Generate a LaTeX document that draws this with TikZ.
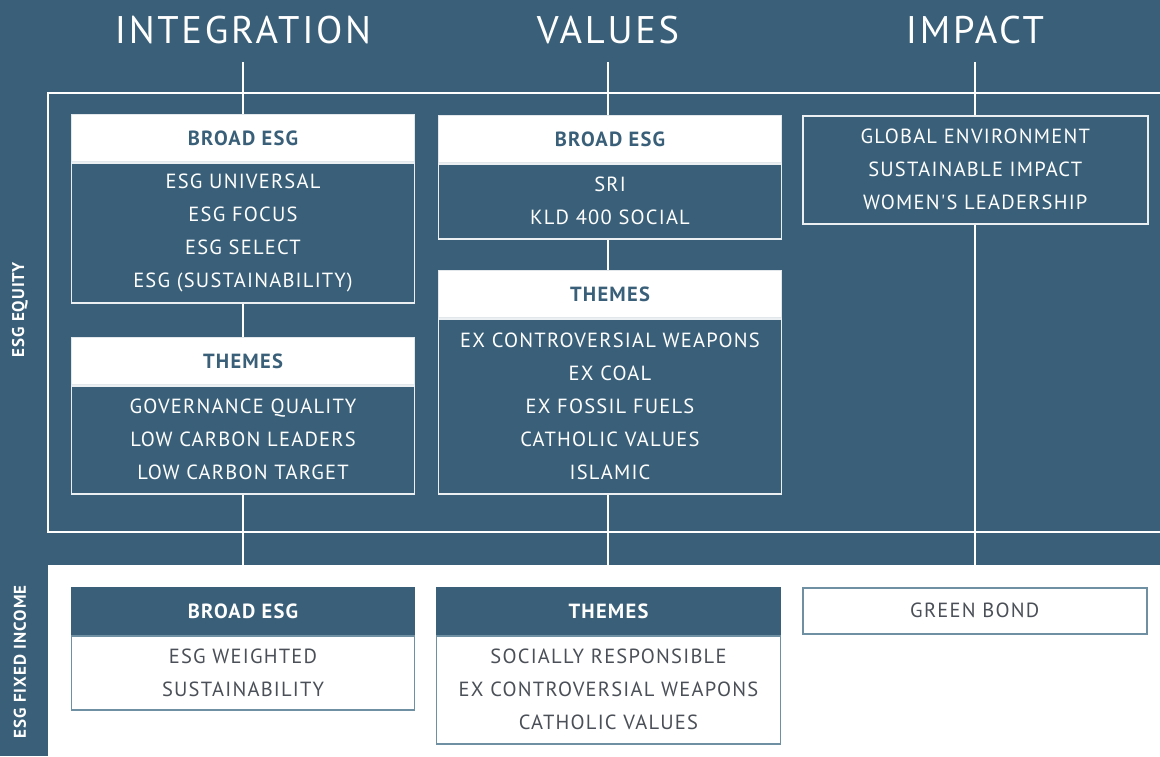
\documentclass[tikz,border=0pt]{standalone}
\usepackage{fontspec}
\setmainfont{PT Sans}
\newfontfamily\dinfont[LetterSpace=6]{PT Sans}
\newfontfamily\headfont[LetterSpace=7]{PT Sans}
\usetikzlibrary{positioning}
\definecolor{esgblue}{HTML}{3A6079}
\definecolor{esggrey}{HTML}{4B5058}
\definecolor{esgedge}{HTML}{6F8FA3}
\tikzset{
  link/.style={draw=white, line width=2pt},
  title/.style={text=white, inner sep=0pt, font=\headfont\fontsize{38.5}{38}\selectfont},
  hdr/.style={rectangle, fill=white, draw=white!85!esgblue, line width=1pt,
    minimum width=343pt, minimum height=47pt, inner sep=0pt, text=esgblue,
    font=\dinfont\fontsize{20.5}{20}\selectfont\bfseries},
  body/.style={rectangle, fill=esgblue, draw=white!90!esgblue, line width=1.5pt,
    minimum width=343pt, inner sep=0pt, align=center, text=white,
    font=\dinfont\fontsize{20.5}{33}\selectfont},
  fihdr/.style={hdr, fill=esgblue, draw=esgblue, text=white},
  fibody/.style={body, fill=white, draw=esgedge, text=esggrey},
  side/.style={text=white, rotate=90, inner sep=0pt, font=\dinfont\fontsize{17}{17}\selectfont\bfseries},
}
\begin{document}
\begin{tikzpicture}[x=1pt,y=-1pt]
\useasboundingbox (0,0) rectangle (1160,756);
\fill[esgblue] (0,0) rectangle (1160,756);
\fill[white] (48,565) rectangle (1160,756);
% equity frame
\draw[link] (1160,93) -| (48,532) -- (1160,532);
% titles
\node[title] (integ) at (243,30) {INTEGRATION};
\node[title] (vals) at (608,30) {VALUES};
\node[title] (impact) at (975,30) {IMPACT};
\coordinate (integtop) at (243,62); \coordinate (integend) at (243,565);
\coordinate (valstop) at (608,62); \coordinate (valsend) at (608,565);
\coordinate (imptop) at (975,62); \coordinate (impend) at (975,565);
% side labels
\node[side] (eqlab) at (20,310) {ESG EQUITY};
\node[side] (filab) at (20,662) {ESG FIXED INCOME};
% equity boxes
\node[hdr, anchor=north west] (ibroadh) at (71,114) {BROAD ESG};
\node[body, minimum height=140pt, below=0pt of ibroadh] (ibroadb)
  {ESG UNIVERSAL\\ESG FOCUS\\ESG SELECT\\ESG (SUSTAINABILITY)};
\node[hdr, anchor=north west] (ithemeh) at (71,337) {THEMES};
\node[body, minimum height=108pt, below=0pt of ithemeh] (ithemeb)
  {GOVERNANCE QUALITY\\LOW CARBON LEADERS\\LOW CARBON TARGET};
\node[hdr, anchor=north west] (vbroadh) at (438,115) {BROAD ESG};
\node[body, minimum height=75pt, below=0pt of vbroadh] (vbroadb)
  {SRI\\KLD 400 SOCIAL};
\node[hdr, anchor=north west] (vthemeh) at (438,270) {THEMES};
\node[body, minimum height=175pt, below=0pt of vthemeh] (vthemeb)
  {EX CONTROVERSIAL WEAPONS\\EX COAL\\EX FOSSIL FUELS\\CATHOLIC VALUES\\ISLAMIC};
\node[body, minimum width=345pt, minimum height=108pt, anchor=north west] (impb) at (802,115)
  {GLOBAL ENVIRONMENT\\SUSTAINABLE IMPACT\\WOMEN'S LEADERSHIP};
% fixed income boxes
\node[fihdr, anchor=north west] (fbroadh) at (71,587) {BROAD ESG};
\node[fibody, minimum height=74pt, below=0pt of fbroadh] (fbroadb)
  {ESG WEIGHTED\\SUSTAINABILITY};
\node[fihdr, minimum width=344pt, anchor=north west] (fthemeh) at (436,587) {THEMES};
\node[fibody, minimum width=344pt, minimum height=108pt, below=0pt of fthemeh] (fthemeb)
  {SOCIALLY RESPONSIBLE\\EX CONTROVERSIAL WEAPONS\\CATHOLIC VALUES};
\node[fibody, minimum width=344pt, minimum height=46pt, anchor=north west] (greenb) at (802,587)
  {GREEN BOND};
% connectors
\draw[link] (integtop) -- (integtop |- ibroadh.north);
\draw[link] (integtop |- ibroadb.south) -- (integtop |- ithemeh.north);
\draw[link] (integtop |- ithemeb.south) -- (integend);
\draw[link] (valstop) -- (valstop |- vbroadh.north);
\draw[link] (valstop |- vbroadb.south) -- (valstop |- vthemeh.north);
\draw[link] (valstop |- vthemeb.south) -- (valsend);
\draw[link] (imptop) -- (imptop |- impb.north);
\draw[link] (imptop |- impb.south) -- (impend);
\end{tikzpicture}
\end{document}
